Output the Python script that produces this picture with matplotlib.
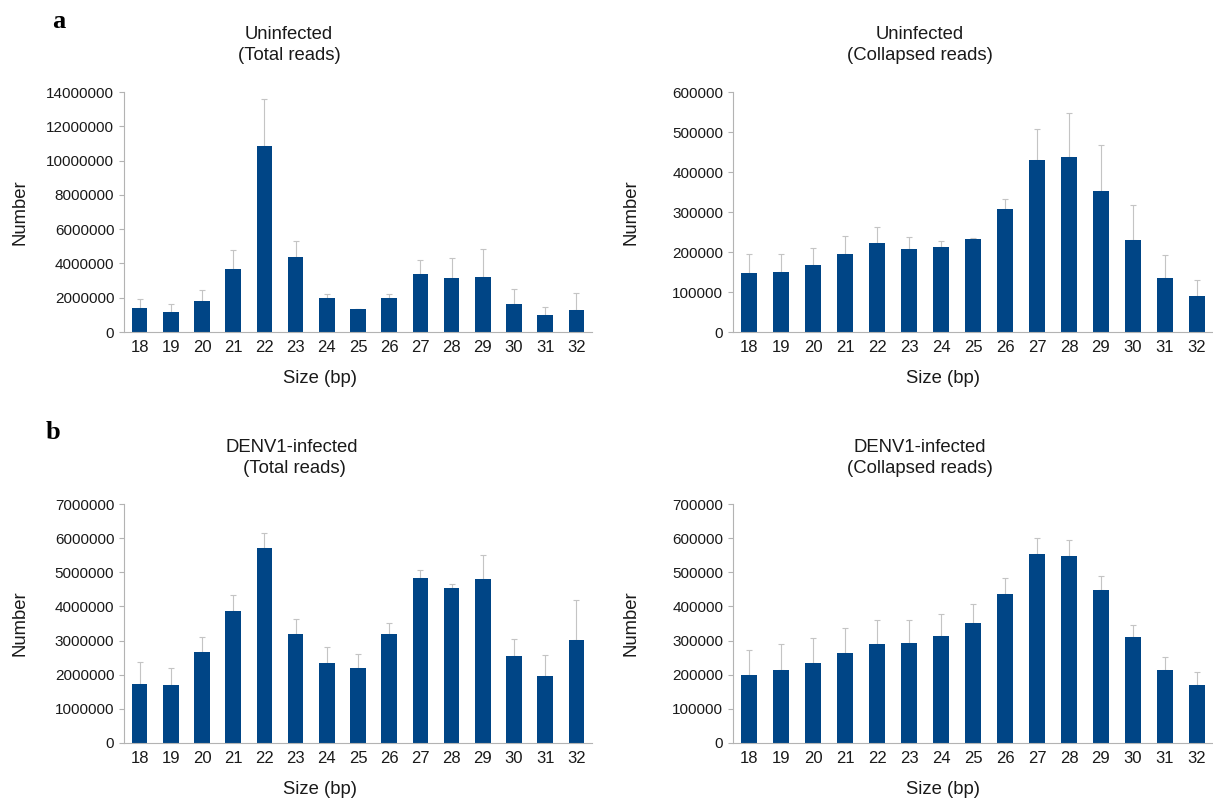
import matplotlib
matplotlib.use("Agg")
import matplotlib.pyplot as plt
import numpy as np
from matplotlib.ticker import MultipleLocator, FuncFormatter

plt.rcParams['font.family'] = ['Liberation Sans', 'DejaVu Sans']

sizes = [18, 19, 20, 21, 22, 23, 24, 25, 26, 27, 28, 29, 30, 31, 32]

# Uninfected, total reads
uninf_total = [1420000, 1150000, 1790000, 3690000, 10830000, 4390000, 1960000, 1320000,
               1960000, 3360000, 3170000, 3190000, 1610000, 1010000, 1300000]
uninf_total_err = [520000, 460000, 680000, 1110000, 2740000, 900000, 240000, 50000,
                   240000, 860000, 1130000, 1650000, 880000, 430000, 990000]

# Uninfected, collapsed reads
uninf_coll = [147500, 150000, 167000, 194000, 222500, 208000, 212000, 233000,
              307500, 429000, 437000, 352500, 229000, 135000, 89000]
uninf_coll_err = [48500, 44000, 43000, 45000, 40500, 30000, 16000, 3000,
                  25500, 78000, 110000, 114500, 89000, 58000, 40000]

# DENV1-infected, total reads
denv_total = [1735000, 1690000, 2660000, 3870000, 5720000, 3190000, 2340000, 2210000,
              3180000, 4820000, 4530000, 4800000, 2560000, 1960000, 3010000]
denv_total_err = [625000, 520000, 440000, 460000, 420000, 440000, 470000, 390000,
                  330000, 260000, 120000, 700000, 480000, 630000, 1170000]

# DENV1-infected, collapsed reads
denv_coll = [200000, 214500, 235000, 263000, 290000, 294000, 314000, 351000,
             435000, 553000, 547000, 447500, 310000, 212500, 168500]
denv_coll_err = [73000, 75500, 73000, 73000, 71000, 67000, 63000, 56500,
                 47500, 48500, 48000, 41500, 36000, 39000, 40000]

BAR = '#004586'
GRID = '#b3b3b3'
TXT = '#1a1a1a'

W, H = 1213, 802
fig = plt.figure(figsize=(W / 100, H / 100), dpi=100)


def px_axes(left, top, right, bottom):
    return fig.add_axes([left / W, 1 - bottom / H, (right - left) / W, (bottom - top) / H])


def panel(ax, vals, errs, ymax, step):
    x = np.arange(len(sizes))
    ax.bar(x, vals, width=0.5, color=BAR, zorder=2)
    ax.errorbar(x, vals, yerr=[np.zeros(len(errs)), errs], fmt='none',
                ecolor='#c4c4c4', elinewidth=0.8, capsize=2.5, capthick=0.8, zorder=1)
    ax.set_xlim(-0.5, len(sizes) - 0.5)
    ax.set_ylim(0, ymax)
    ax.yaxis.set_major_locator(MultipleLocator(step))
    ax.yaxis.set_major_formatter(FuncFormatter(lambda v, p: f"{int(round(v))}"))
    ax.set_xticks(x)
    ax.set_xticklabels([str(s) for s in sizes])
    for side in ('top', 'right'):
        ax.spines[side].set_visible(False)
    for side in ('left', 'bottom'):
        ax.spines[side].set_color(GRID)
        ax.spines[side].set_linewidth(0.8)
    ax.tick_params(axis='y', length=3.5, width=0.8, color=GRID, pad=3.5,
                   labelsize=11, labelcolor=TXT)
    ax.tick_params(axis='x', length=0, pad=6, labelsize=12, labelcolor=TXT)
    ax.set_facecolor('white')


ax1 = px_axes(124, 92, 592, 332)
panel(ax1, uninf_total, uninf_total_err, 14000000, 2000000)
ax2 = px_axes(733, 92, 1213, 332)
panel(ax2, uninf_coll, uninf_coll_err, 600000, 100000)
ax3 = px_axes(124, 504, 592, 743)
panel(ax3, denv_total, denv_total_err, 7000000, 1000000)
ax4 = px_axes(733, 504, 1213, 743)
panel(ax4, denv_coll, denv_coll_err, 700000, 100000)


def ftext(x, y, s, **kw):
    fig.text(x / W, 1 - y / H, s, ha='center', va='center', color=TXT, **kw)


# titles
ftext(289, 45, "Uninfected\n(Total reads)", fontsize=13.3, linespacing=1.35)
ftext(920, 45, "Uninfected\n(Collapsed reads)", fontsize=13.3, linespacing=1.35)
ftext(292, 458, "DENV1-infected\n (Total reads)", fontsize=13.3, linespacing=1.35)
ftext(920, 458, "DENV1-infected\n(Collapsed reads)", fontsize=13.3, linespacing=1.35)

# axis labels
for y in (378, 790):
    ftext(320, y, "Size (bp)", fontsize=13.3)
    ftext(943, y, "Size (bp)", fontsize=13.3)
for yc in (212, 623):
    ftext(20, yc, "Number", fontsize=13.3, rotation=90)
    ftext(631, yc, "Number", fontsize=13.3, rotation=90)

# panel letters
fig.text(59 / W, 1 - 22 / H, "a", ha='center', va='center', fontsize=19,
         fontweight='bold', family=['Liberation Serif', 'DejaVu Serif'], color='black')
fig.text(53 / W, 1 - 433 / H, "b", ha='center', va='center', fontsize=19,
         fontweight='bold', family=['Liberation Serif', 'DejaVu Serif'], color='black')

fig.savefig("out.png", dpi=100, facecolor='white')
